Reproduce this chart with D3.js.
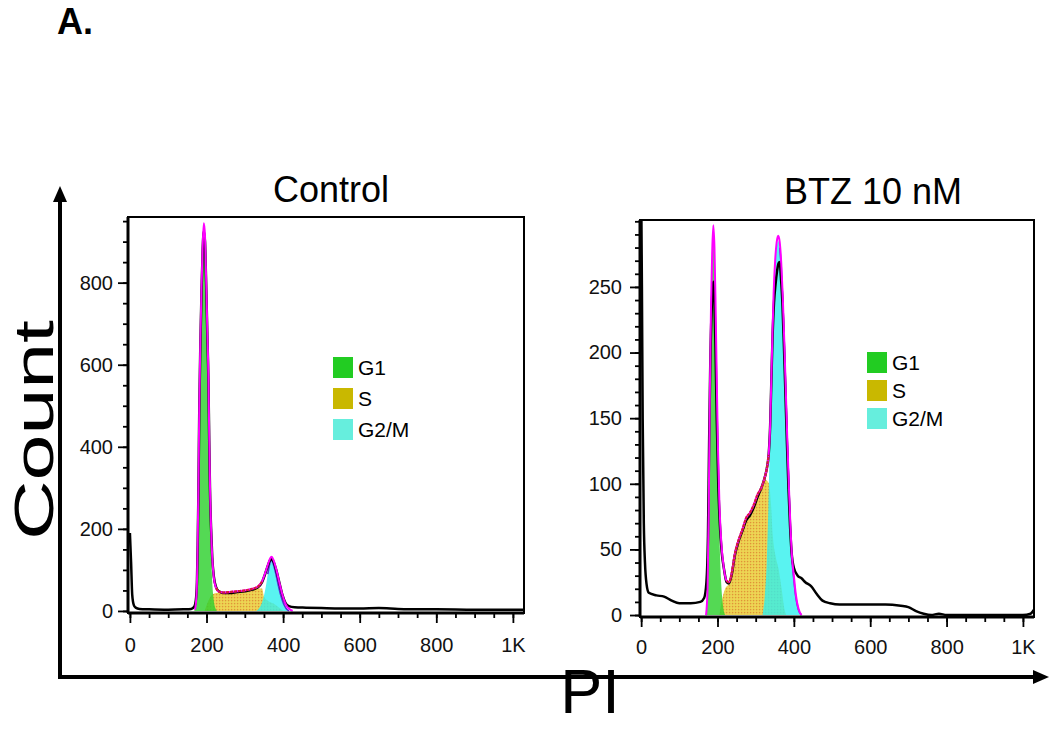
<!DOCTYPE html>
<html><head><meta charset="utf-8">
<script src="https://cdn.jsdelivr.net/npm/d3@7/dist/d3.min.js"></script>
<style>
html,body{margin:0;padding:0;background:#fff;}
svg{display:block;font-family:"Liberation Sans",Arial,sans-serif;}
</style></head>
<body><svg id="c" width="1050" height="730"></svg>
<script>
// ---------- DATA ----------
const xTickValues = [0, 200, 400, 600, 800, 1000];
const xTickLabels = ["0", "200", "400", "600", "800", "1K"];
const ctrlYTicks = [0, 200, 400, 600, 800];
const btzYTicks = [0, 50, 100, 150, 200, 250];
const phaseLabels = ["G1", "S", "G2/M"];
const panelTitles = ["Control", "BTZ 10 nM"];

// Control: [PI, count]
const ctrlTotal = [[0,190],[3,120],[6,40],[10,15],[15,8],[25,5],[50,4],[100,3],[140,4],[160,5],[168,10],[172,25],[175,70],[177,160],[179,300],[181,480],[184,650],[187,780],[190,880],[193,925],[196,900],[199,800],[202,680],[205,560],[207,420],[209,300],[212,200],[215,130],[219,85],[225,58],[232,48],[245,44],[260,44],[280,46],[300,48],[320,52],[335,58],[345,70],[353,90],[360,110],[366,124],[370,126],[375,120],[382,100],[390,70],[398,40],[406,20],[415,12],[430,9],[460,8],[500,7],[550,6],[600,6],[650,7],[700,5],[750,4],[800,4],[900,3],[1000,3],[1029,3]];
const ctrlFit = [[170,3],[174,40],[177,170],[179,310],[181,490],[184,660],[187,790],[190,890],[193,945],[196,915],[199,810],[202,690],[205,570],[207,430],[209,310],[212,200],[215,130],[219,82],[225,56],[232,47],[245,45],[260,46],[280,48],[300,50],[320,54],[335,60],[345,72],[353,92],[360,112],[366,128],[370,132],[375,124],[382,102],[390,70],[398,40],[406,18],[415,6],[425,0]];
const ctrlG1 = [[168,0],[172,20],[175,65],[177,150],[179,290],[181,470],[184,640],[187,770],[190,870],[193,930],[196,900],[199,790],[202,660],[205,530],[207,380],[209,250],[212,140],[215,70],[219,25],[224,5],[228,0]];
const ctrlS = [[195,0],[205,25],[215,40],[225,44],[240,45],[260,46],[280,47],[300,49],[320,52],[335,55],[345,55],[350,35],[360,25],[375,18],[390,8],[400,0]];
const ctrlG2 = [[330,0],[340,10],[348,30],[355,60],[360,90],[365,115],[369,125],[373,118],[380,95],[387,65],[394,38],[401,18],[408,6],[415,0]];

// BTZ 10 nM: [PI, count]
const btzTotal = [[0,330],[2,250],[4,150],[7,70],[10,40],[14,24],[20,17],[40,15],[60,14],[80,11],[100,9],[130,9],[155,10],[165,13],[171,25],[175,60],[178,130],[181,190],[185,235],[189,254],[192,240],[195,200],[198,150],[202,100],[206,70],[211,48],[217,35],[224,25],[230,24],[238,32],[245,45],[255,56],[265,64],[275,72],[285,76],[295,82],[305,90],[315,97],[322,103],[328,110],[334,122],[338,145],[341,178],[344,210],[348,238],[352,252],[356,262],[360,268],[363,269],[366,258],[370,238],[374,205],[378,168],[382,130],[386,96],[390,68],[394,48],[400,36],[410,30],[420,28],[430,25],[445,22],[460,16],[475,11],[495,9],[520,8],[560,8],[600,8],[640,8],[680,7],[700,6],[720,3],[740,1],[760,0],[780,1],[800,0],[900,0],[1000,0],[1020,1],[1029,4]];
const btzFit = [[170,0],[174,20],[177,80],[180,170],[183,235],[186,275],[189,297],[192,280],[195,235],[198,180],[201,130],[205,85],[210,55],[217,35],[224,26],[230,25],[238,33],[245,46],[255,57],[265,65],[275,74],[285,78],[295,84],[305,92],[315,97],[322,103],[328,110],[334,122],[338,145],[341,180],[344,215],[347,245],[351,270],[355,284],[359,289],[363,284],[367,268],[371,242],[375,208],[379,170],[383,132],[387,98],[391,68],[395,45],[400,30],[405,16],[412,5],[420,0]];
const btzG1 = [[170,0],[174,15],[177,70],[180,160],[183,225],[186,268],[189,290],[192,272],[195,225],[198,165],[201,110],[205,60],[209,28],[214,8],[220,0]];
const btzS = [[205,0],[212,12],[220,20],[230,24],[238,32],[245,45],[255,56],[265,64],[275,72],[285,76],[295,82],[305,90],[315,97],[325,103],[335,100],[340,85],[345,60],[352,45],[360,35],[368,20],[375,5],[380,0]];
const btzG2 = [[318,0],[324,15],[329,40],[333,80],[337,130],[341,180],[344,215],[347,245],[351,268],[355,280],[359,285],[363,280],[367,265],[371,240],[375,205],[379,167],[383,130],[387,96],[391,66],[395,43],[400,27],[405,14],[412,4],[420,0]];

// ---------- LAYOUT ----------
const svg = d3.select("#c");
const defs = svg.append("defs");
const pat = defs.append("pattern").attr("id","sdots").attr("patternUnits","userSpaceOnUse").attr("width",3).attr("height",3);
pat.append("rect").attr("width",3).attr("height",3).attr("fill","#ecd04c");
pat.append("rect").attr("x",0).attr("y",0).attr("width",1.2).attr("height",1.2).attr("fill","#e0903c");
pat.append("rect").attr("x",1.5).attr("y",1.5).attr("width",1).attr("height",1).attr("fill","#f0e070");

const legendColors = ["#22cc22", "#c9b800", "#66eedd"];

const panels = [
  {title: panelTitles[0], tx: 331, ty: 202, x0: 128, x1: 524, y0: 613, y1: 217,
   xDom: [-5, 1029], yDom: [-5, 960], yTicks: ctrlYTicks, yMinor: d3.range(0, 951, 50),
   total: ctrlTotal, fit: ctrlFit, g1: ctrlG1, s: ctrlS, g2: ctrlG2, sRange: [221, 352],
   lx: 333, ly: 357, lgap: 31, xPad: 15, yPad: 5},
  {title: panelTitles[1], tx: 873, ty: 204, x0: 640, x1: 1034, y0: 617, y1: 220,
   xDom: [-3, 1029], yDom: [-1.5, 301], yTicks: btzYTicks, yMinor: d3.range(0, 301, 10),
   total: btzTotal, fit: btzFit, g1: btzG1, s: btzS, g2: btzG2, sRange: [222, 334],
   lx: 867, ly: 352, lgap: 28, xPad: 13, yPad: 8}
];

panels.forEach((p, i) => {
  const x = d3.scaleLinear().domain(p.xDom).range([p.x0, p.x1]);
  const y = d3.scaleLinear().domain(p.yDom).range([p.y0, p.y1]);
  const g = svg.append("g");
  const cid = "clip" + i;
  defs.append("clipPath").attr("id", cid).append("rect")
    .attr("x", p.x0).attr("y", p.y1).attr("width", p.x1 - p.x0).attr("height", p.y0 - p.y1);
  const plot = g.append("g").attr("clip-path", `url(#${cid})`);

  const area = d3.area().x(d => x(d[0])).y0(y(0)).y1(d => y(d[1])).curve(d3.curveMonotoneX);
  const line = d3.line().x(d => x(d[0])).y(d => y(d[1])).curve(d3.curveMonotoneX);

  plot.append("path").datum(p.s).attr("d", area).attr("fill", "url(#sdots)");
  plot.append("path").datum(p.g1).attr("d", area).attr("fill", "#2ed12e").attr("fill-opacity", 0.82);
  plot.append("path").datum(p.g2).attr("d", area).attr("fill", "#2ff0ee").attr("fill-opacity", 0.8);
  plot.append("path").datum(p.g2.filter(d => d[0] >= 360)).attr("d", line)
    .attr("fill", "none").attr("stroke", "#5a2ad8").attr("stroke-width", 1.6);
  plot.append("path").datum(p.total).attr("d", line)
    .attr("fill", "none").attr("stroke", "#000").attr("stroke-width", 2.5).attr("stroke-linejoin", "round");
  plot.append("path").datum(p.fit).attr("d", line)
    .attr("fill", "none").attr("stroke", "#ff00ff").attr("stroke-width", 2).attr("stroke-linejoin", "round");
  plot.append("path").datum(p.fit.filter(d => d[0] >= p.sRange[0] && d[0] <= p.sRange[1])).attr("d", line)
    .attr("fill", "none").attr("stroke", "#d21e3c").attr("stroke-width", 2.2).attr("stroke-dasharray", "3,1");

  // frame
  g.append("rect").attr("x", p.x0).attr("y", p.y1).attr("width", p.x1 - p.x0).attr("height", p.y0 - p.y1)
    .attr("fill", "none").attr("stroke", "#000").attr("stroke-width", 2);

  // x axis
  const xMinor = g.append("g").attr("transform", `translate(0,${p.y0})`)
    .call(d3.axisBottom(x).tickValues(d3.range(0, 1001, 50)).tickSize(5).tickFormat(""));
  const xMajor = g.append("g").attr("transform", `translate(0,${p.y0})`)
    .call(d3.axisBottom(x).tickValues(xTickValues).tickSize(10).tickPadding(p.xPad)
      .tickFormat((d, k) => xTickLabels[k]));
  // y axis
  const yMinor = g.append("g").attr("transform", `translate(${p.x0},0)`)
    .call(d3.axisLeft(y).tickValues(p.yMinor).tickSize(5).tickFormat(""));
  const yMajor = g.append("g").attr("transform", `translate(${p.x0},0)`)
    .call(d3.axisLeft(y).tickValues(p.yTicks).tickSize(10).tickPadding(p.yPad));
  [xMinor, xMajor, yMinor, yMajor].forEach(a => {
    a.select(".domain").remove();
    a.selectAll("line").attr("stroke", "#000").attr("stroke-width", 1.8);
    a.selectAll("text").attr("font-size", 20).attr("fill", "#111")
      .attr("font-family", "'Liberation Sans',Arial,sans-serif");
  });
  g.append("line").attr("x1", p.x0).attr("x2", p.x1).attr("y1", p.y0).attr("y2", p.y0)
    .attr("stroke", "#000").attr("stroke-width", 3);
  g.append("line").attr("x1", p.x0).attr("x2", p.x0).attr("y1", p.y1).attr("y2", p.y0)
    .attr("stroke", "#000").attr("stroke-width", 3);

  // title
  g.append("text").attr("x", p.tx).attr("y", p.ty).attr("text-anchor", "middle")
    .attr("font-size", 36).attr("fill", "#000").text(p.title);

  // legend
  phaseLabels.forEach((lab, k) => {
    const ly = p.ly + k * p.lgap;
    g.append("rect").attr("x", p.lx).attr("y", ly).attr("width", 20).attr("height", 21)
      .attr("fill", legendColors[k]);
    g.append("text").attr("x", p.lx + 25).attr("y", ly + 18).attr("font-size", 21)
      .attr("fill", "#000").text(lab);
  });
});

// big axis arrows
svg.append("line").attr("x1", 60).attr("y1", 677).attr("x2", 60).attr("y2", 200)
  .attr("stroke", "#000").attr("stroke-width", 4);
svg.append("path").attr("d", "M60,186 L53,202 L67,202 Z").attr("fill", "#000");
svg.append("line").attr("x1", 58).attr("y1", 677).attr("x2", 1036).attr("y2", 677)
  .attr("stroke", "#000").attr("stroke-width", 4);
svg.append("path").attr("d", "M1049,677 L1033,670 L1033,684 Z").attr("fill", "#000");

svg.append("text").attr("transform", "translate(53,430) rotate(-90)").attr("text-anchor", "middle")
  .attr("font-size", 56).attr("textLength", 220).attr("lengthAdjust", "spacingAndGlyphs")
  .attr("fill", "#000").text("Count");
svg.append("text").attr("x", 590).attr("y", 713).attr("text-anchor", "middle")
  .attr("font-size", 63).attr("fill", "#000").text("PI");
svg.append("text").attr("x", 57).attr("y", 34).attr("font-size", 36).attr("font-weight", "bold")
  .attr("fill", "#000").text("A.");
</script></body></html>
